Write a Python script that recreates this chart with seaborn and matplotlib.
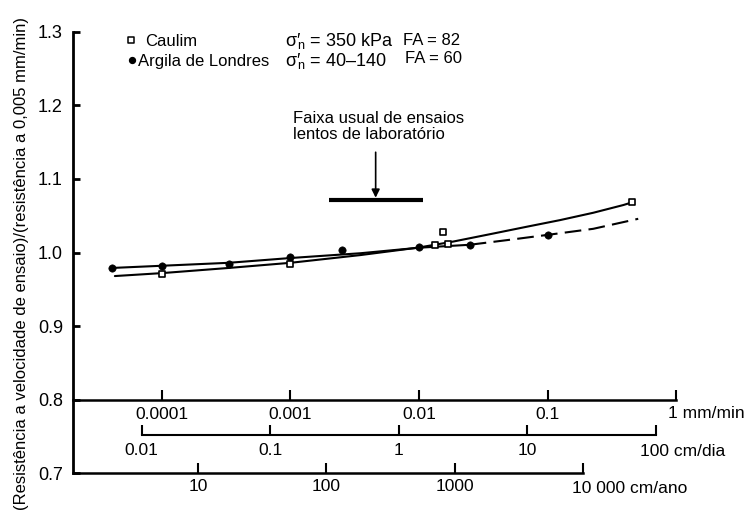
import numpy as np
import pandas as pd
import matplotlib
matplotlib.use("Agg")
import matplotlib.pyplot as plt
from matplotlib.ticker import NullLocator
import seaborn as sns

# velocidades em mm/min, razão de resistência
caulim_x = [1e-4, 1e-3, 0.0134, 0.0155, 0.0167, 0.452]
caulim_y = [0.971, 0.985, 1.0104, 1.0285, 1.011, 1.068]
argila_x = [4.08e-5, 1e-4, 3.3e-4, 1e-3, 2.5e-3, 0.01, 0.0248, 0.1017]
argila_y = [0.979, 0.982, 0.985, 0.9945, 1.004, 1.008, 1.0104, 1.0241]

# curvas ajustadas (lidas ao longo do traço)
caulim_curve_x = [4.3e-5, 1e-4, 3.3e-4, 1e-3, 3.5e-3, 0.01, 0.0185, 0.0379, 0.0689,
                  0.125, 0.227, 0.389, 0.452]
caulim_curve_y = [0.968, 0.972, 0.979, 0.986, 0.9965, 1.0068, 1.0149, 1.0258, 1.0350,
                  1.0440, 1.0540, 1.0645, 1.068]
argila_solid_x = [4.08e-5, 1e-4, 3.3e-4, 1e-3, 3.5e-3, 0.01, 0.0248]
argila_solid_y = [0.979, 0.982, 0.986, 0.9925, 0.999, 1.0065, 1.0105]
argila_dash_x = [0.0248, 0.0509, 0.1017, 0.227, 0.508]
argila_dash_y = [1.0105, 1.0173, 1.0241, 1.0322, 1.0458]

# faixa usual de ensaios lentos (mm/min)
lab_range = (2.0e-3, 0.0107)
lab_level = 1.0707
lab_arrow_x = 4.6e-3

# escalas
mm_ticks = [1e-4, 1e-3, 1e-2, 1e-1, 1]
mm_labels = ["0.0001", "0.001", "0.01", "0.1", ""]
dia_ticks = [0.01, 0.1, 1, 10, 100]
dia_labels = ["0.01", "0.1", "1", "10", ""]
ano_ticks = [10, 100, 1000, 10000]
ano_labels = ["10", "100", "1000", ""]
y_ticks = [0.7, 0.8, 0.9, 1.0, 1.1, 1.2, 1.3]

MM_TO_DIA = 144.0      # mm/min -> cm/dia
MM_TO_ANO = 52560.0    # mm/min -> cm/ano
x_min = 2.02e-5

sns.set_style("ticks", {"axes.edgecolor": "black", "xtick.color": "black",
                        "ytick.color": "black", "text.color": "black",
                        "axes.labelcolor": "black"})
plt.rcParams['font.family'] = ['Liberation Sans', 'DejaVu Sans']
plt.rcParams['mathtext.fontset'] = 'custom'
plt.rcParams['mathtext.rm'] = 'Liberation Sans'
plt.rcParams['mathtext.it'] = 'Liberation Sans'
plt.rcParams['mathtext.sf'] = 'Liberation Sans'

fig = plt.figure(figsize=(7.45, 5.15), dpi=100)
ax = fig.add_axes([0.0976, 0.081, 0.8098, 0.8574])
ax.set_xscale('log')

sns.lineplot(x=caulim_curve_x, y=caulim_curve_y, ax=ax, color='black', lw=1.5)
sns.lineplot(x=argila_solid_x, y=argila_solid_y, ax=ax, color='black', lw=1.5)
sns.lineplot(x=argila_dash_x, y=argila_dash_y, ax=ax, color='black', lw=1.5,
             linestyle=(0, (8, 3.5)))
sns.scatterplot(x=argila_x, y=argila_y, ax=ax, marker='o', s=28, color='black',
                edgecolor='black', zorder=3)
sns.scatterplot(x=caulim_x, y=caulim_y, ax=ax, marker='s', s=22, color='white',
                edgecolor='black', linewidth=1.2, zorder=4)

ax.set_xlim(x_min, 1.0)
ax.set_ylim(0.7, 1.3)
ax.spines[['top', 'right']].set_visible(False)
ax.spines['bottom'].set_position(('data', 0.8))
ax.spines['left'].set_linewidth(2.0)
ax.spines['bottom'].set_linewidth(1.8)

ax.set_yticks(y_ticks, [f"{v:.1f}" for v in y_ticks])
ax.set_xticks(mm_ticks, mm_labels)
ax.xaxis.set_minor_locator(NullLocator())
ax.tick_params(axis='x', direction='in', length=7, width=1.5, labelsize=12.5, pad=5.5)
ax.tick_params(axis='y', direction='in', length=5, width=2, labelsize=13, pad=7)

# escala em cm/dia
dia_pos = 0.0867
dia = ax.secondary_xaxis(dia_pos, functions=(lambda v: v * MM_TO_DIA, lambda v: v / MM_TO_DIA))
dia.set_xticks(dia_ticks, dia_labels)
dia.xaxis.set_minor_locator(NullLocator())
dia.spines['bottom'].set_bounds(dia_ticks[0], dia_ticks[-1])
dia.spines['bottom'].set_linewidth(1.5)
dia.tick_params(axis='x', direction='in', length=7, width=1.5, labelsize=12.5, pad=5.5)

# escala em cm/ano
ano = ax.secondary_xaxis(0, functions=(lambda v: v * MM_TO_ANO, lambda v: v / MM_TO_ANO))
ano.set_xticks(ano_ticks, ano_labels)
ano.xaxis.set_minor_locator(NullLocator())
ano.spines['bottom'].set_bounds(x_min * MM_TO_ANO, ano_ticks[-1])
ano.spines['bottom'].set_linewidth(1.8)
ano.tick_params(axis='x', direction='in', length=7, width=1.5, labelsize=12.5, pad=4)

xt = ax.get_xaxis_transform()
ax.annotate("1 mm/min", xy=(mm_ticks[-1], (0.8 - 0.7) / 0.6), xycoords=xt,
            xytext=(-6, -10), textcoords='offset points', ha='left', va='center',
            fontsize=12.5, annotation_clip=False)
ax.annotate("100 cm/dia", xy=(dia_ticks[-1] / MM_TO_DIA, dia_pos), xycoords=xt,
            xytext=(-11, -12), textcoords='offset points', ha='left', va='center',
            fontsize=12.5, annotation_clip=False)
ax.annotate("10 000 cm/ano", xy=(ano_ticks[-1] / MM_TO_ANO, 0), xycoords=xt,
            xytext=(-8, -11), textcoords='offset points', ha='left', va='center',
            fontsize=12.5, annotation_clip=False)

ax.set_ylabel("(Resistência a velocidade de ensaio)/(resistência a 0,005 mm/min)", fontsize=12)
ax.yaxis.set_label_coords(-0.073, 0.476)

# legenda
ax.scatter([0.0966], [0.981], marker='s', s=16, facecolor='white', edgecolor='black',
           linewidth=1.1, transform=ax.transAxes, clip_on=False)
ax.scatter([0.0983], [0.936], marker='o', s=18, color='black',
           transform=ax.transAxes, clip_on=False)
ax.text(0.1198, 0.9676, "Caulim", transform=ax.transAxes, fontsize=12, va='baseline')
ax.text(0.108, 0.922, "Argila de Londres", transform=ax.transAxes, fontsize=12, va='baseline')
ax.text(0.352, 0.9676, r"σ′$\!_{\mathrm{n}}$ = 350 kPa", transform=ax.transAxes,
        fontsize=13, va='baseline')
ax.text(0.352, 0.922, r"σ′$\!_{\mathrm{n}}$ = 40–140", transform=ax.transAxes,
        fontsize=13, va='baseline')
ax.text(0.5475, 0.970, "FA = 82", transform=ax.transAxes, fontsize=12, va='baseline')
ax.text(0.5505, 0.930, "FA = 60", transform=ax.transAxes, fontsize=12, va='baseline')

# faixa de laboratório
ax.text(1.05e-3, 1.1916, "Faixa usual de ensaios\nlentos de laboratório", fontsize=12,
        ha='left', va='top', linespacing=1.05)
ax.hlines(lab_level, lab_range[0], lab_range[1], color='black', lw=3)
ax.annotate("", xy=(lab_arrow_x, lab_level), xytext=(lab_arrow_x, 1.140),
            arrowprops=dict(arrowstyle='-|>', color='black', lw=1.2, mutation_scale=12))

fig.savefig("out.png", dpi=100)
